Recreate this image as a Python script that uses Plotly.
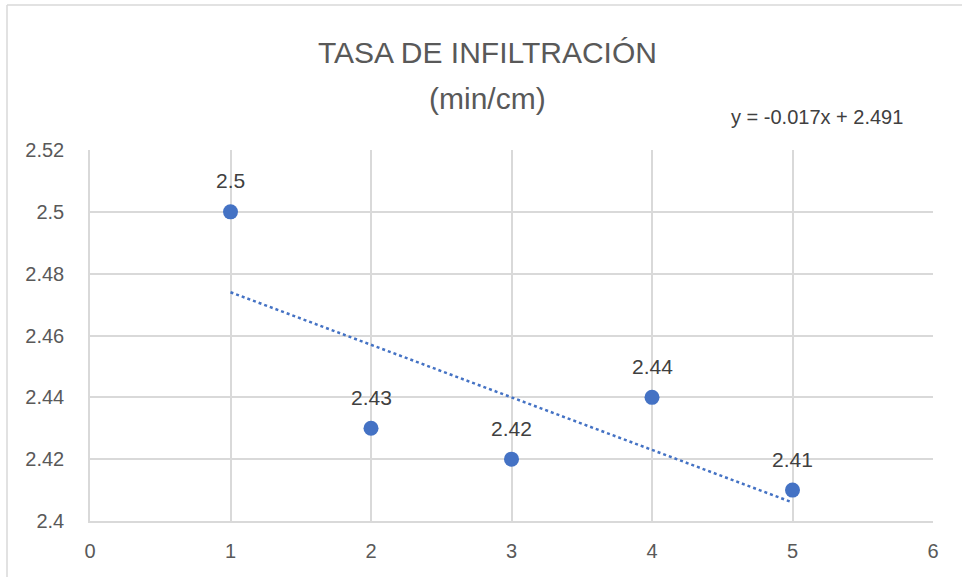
import numpy as np
import plotly.graph_objects as go

x_vals = [1, 2, 3, 4, 5]
y_vals = [2.5, 2.43, 2.42, 2.44, 2.41]
title_lines = ["TASA DE INFILTRACIÓN", "(min/cm)"]

slope, intercept = np.polyfit(x_vals, y_vals, 1)
x_fit = [min(x_vals), max(x_vals)]
y_fit = [slope * v + intercept for v in x_fit]
eq_text = f"y = {slope:.3f}x + {intercept:.3f}"

BLUE = "#4472C4"
GRID = "#d9d9d9"
TXT = "#595959"
FONT = "Liberation Sans"

fig = go.Figure()
fig.add_trace(go.Scatter(
    x=x_fit, y=y_fit, mode="lines",
    line=dict(color=BLUE, width=2.5, dash="dot"),
    hoverinfo="skip", showlegend=False))
fig.add_trace(go.Scatter(
    x=x_vals, y=y_vals, mode="markers",
    marker=dict(color=BLUE, size=15),
    showlegend=False))

L, R, T, B = 90, 29, 150, 56
W, H = 962, 577
pw, ph = W - L - R, H - T - B

def px(xp):
    return (xp - L) / pw

def py(yp):
    return (H - B - yp) / ph

annotations = [
    dict(text=title_lines[0], xref="paper", yref="paper", x=px(487), y=py(52),
         showarrow=False, font=dict(size=30, color=TXT, family=FONT), xanchor="center", yanchor="middle"),
    dict(text=title_lines[1], xref="paper", yref="paper", x=px(487), y=py(98),
         showarrow=False, font=dict(size=30, color=TXT, family=FONT), xanchor="center", yanchor="middle"),
    dict(text=eq_text, xref="paper", yref="paper", x=px(817), y=py(117),
         showarrow=False, font=dict(size=20, color="#404040", family=FONT), xanchor="center", yanchor="middle"),
]
for xv, yv in zip(x_vals, y_vals):
    annotations.append(dict(text=f"{yv:g}", x=xv, y=yv, xref="x", yref="y", showarrow=False,
                            yshift=31, font=dict(size=21, color="#404040", family=FONT)))

fig.update_layout(
    width=W, height=H,
    margin=dict(l=L, r=R, t=T, b=B),
    paper_bgcolor="white", plot_bgcolor="white",
    font=dict(family=FONT, color=TXT),
    xaxis=dict(range=[0, 6], dtick=1, showgrid=True, gridcolor=GRID, gridwidth=1.5,
               zeroline=False, showline=True, linecolor=GRID, linewidth=1.5,
               ticks="", tickfont=dict(size=20, color=TXT), ticklabelstandoff=11),
    yaxis=dict(range=[2.4, 2.52], dtick=0.02, showgrid=True, gridcolor=GRID, gridwidth=1.5,
               zeroline=False, showline=True, linecolor=GRID, linewidth=1.5,
               ticks="", tickfont=dict(size=20, color=TXT), ticklabelstandoff=20),
    annotations=annotations,
    shapes=[
        dict(type="line", xref="paper", yref="paper", x0=px(7), x1=px(7), y0=py(5), y1=py(580),
             line=dict(color=GRID, width=1.5)),
        dict(type="line", xref="paper", yref="paper", x0=px(7), x1=px(965), y0=py(5), y1=py(5),
             line=dict(color=GRID, width=1.5)),
    ],
)

fig.write_html("out.html", config={"displayModeBar": False},
               post_script="document.body.style.margin='0';")
